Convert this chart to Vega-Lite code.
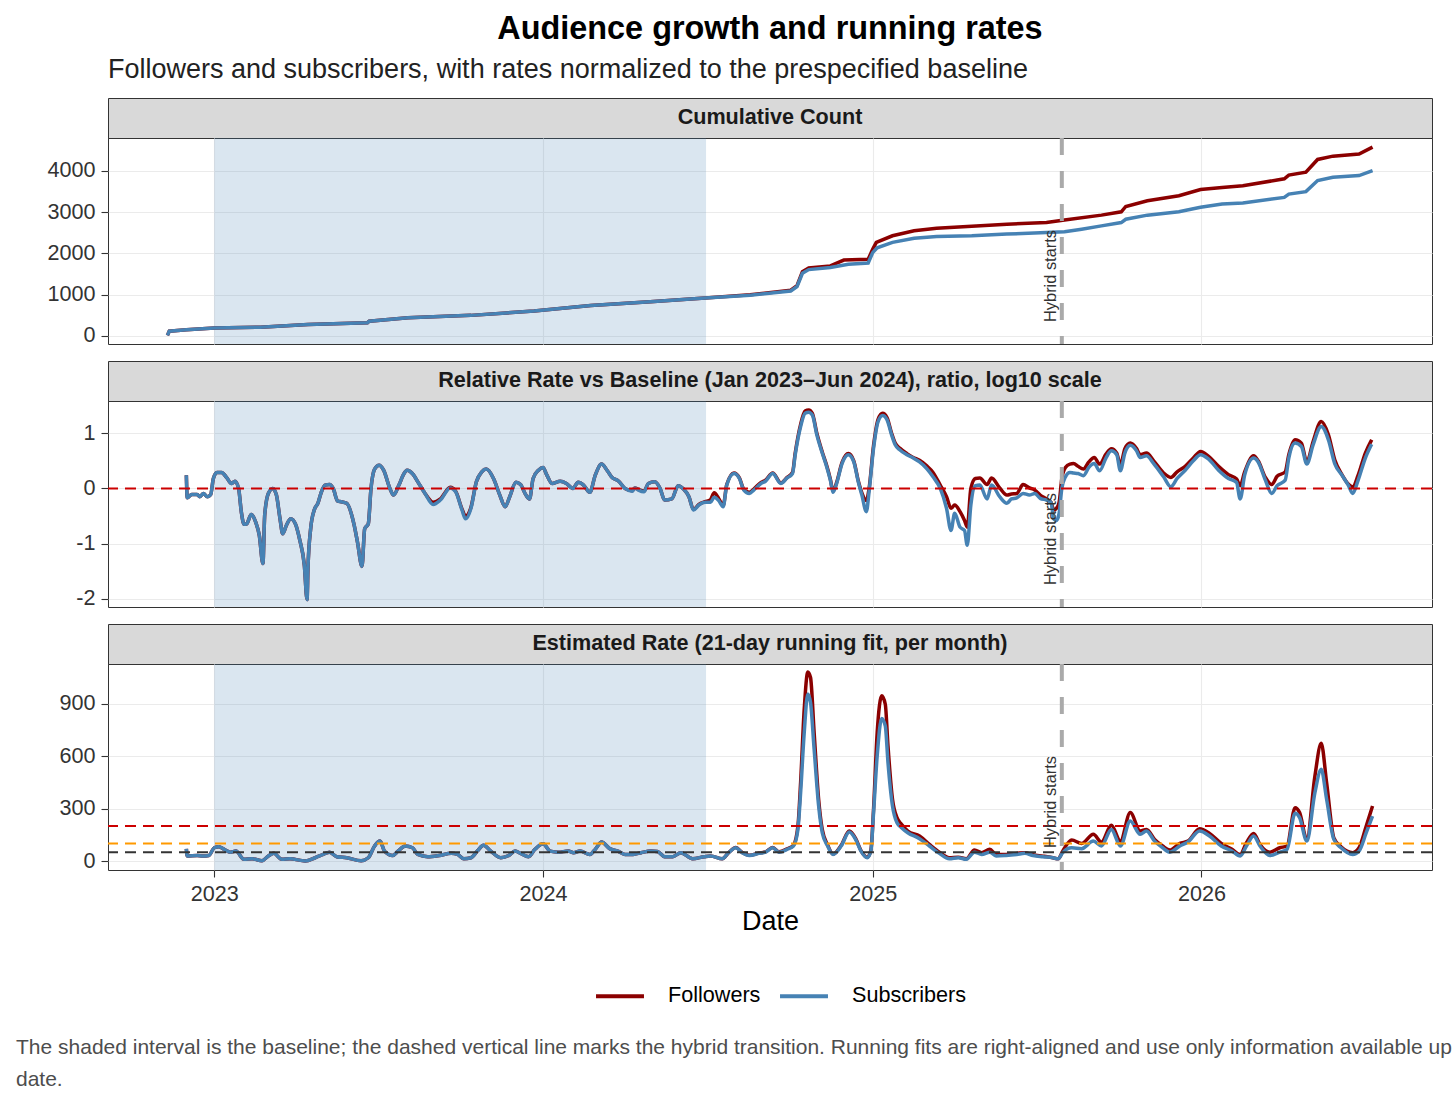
{
"$schema":"https://vega.github.io/schema/vega-lite/v6.json",
"padding":{"left":16,"top":13,"right":0,"bottom":6},
"config":{
"font":"Liberation Sans",
"view":{"stroke":"#333333","strokeWidth":1},
"axis":{"gridColor":"#EBEBEB","gridWidth":1.1,"domain":false,"tickColor":"#333333","tickWidth":1.1,"tickSize":7,"labelColor":"#333333","labelFontSize":21.6,"labelPadding":6},
"legend":{"labelFontSize":21.6,"labelColor":"#000000","symbolType":"stroke","symbolStrokeWidth":4,"symbolSize":2300,"labelOffset":22,"columnPadding":11}
},
"datasets":{
"base":[{"d":"2023-01-01","d2":"2024-06-30"}],
"hyb":[{"d":"2025-07-30","label":"Hybrid starts"}],
"hl3":[{"t":200,"k":"hi"},{"t":100,"k":"mid"},{"t":50,"k":"lo"}],
"hl2":[{"t":0}],
"strip1":[{"label":"Cumulative Count"}],
"strip2":[{"label":"Relative Rate vs Baseline (Jan 2023–Jun 2024), ratio, log10 scale"}],
"strip3":[{"label":"Estimated Rate (21-day running fit, per month)"}],
"cum":[
{"d":"2022-11-10","s":"Followers","v":15},{"d":"2022-11-12","s":"Followers","v":115},{"d":"2022-12-01","s":"Followers","v":150},{"d":"2023-01-01","s":"Followers","v":195},{"d":"2023-02-21","s":"Followers","v":215},{"d":"2023-04-15","s":"Followers","v":280},{"d":"2023-06-20","s":"Followers","v":320},{"d":"2023-06-22","s":"Followers","v":360},{"d":"2023-08-04","s":"Followers","v":440},{"d":"2023-10-13","s":"Followers","v":500},{"d":"2023-12-22","s":"Followers","v":605},{"d":"2024-02-23","s":"Followers","v":740},{"d":"2024-04-29","s":"Followers","v":830},{"d":"2024-06-29","s":"Followers","v":920},{"d":"2024-08-18","s":"Followers","v":1000},{"d":"2024-10-02","s":"Followers","v":1110},{"d":"2024-10-09","s":"Followers","v":1220},{"d":"2024-10-15","s":"Followers","v":1560},{"d":"2024-10-22","s":"Followers","v":1650},{"d":"2024-11-15","s":"Followers","v":1700},{"d":"2024-11-30","s":"Followers","v":1840},{"d":"2024-12-27","s":"Followers","v":1860},{"d":"2025-01-01","s":"Followers","v":2100},{"d":"2025-01-05","s":"Followers","v":2270},{"d":"2025-01-23","s":"Followers","v":2430},{"d":"2025-02-16","s":"Followers","v":2550},{"d":"2025-03-13","s":"Followers","v":2610},{"d":"2025-04-21","s":"Followers","v":2660},{"d":"2025-05-30","s":"Followers","v":2710},{"d":"2025-07-13","s":"Followers","v":2750},{"d":"2025-08-02","s":"Followers","v":2810},{"d":"2025-09-12","s":"Followers","v":2930},{"d":"2025-10-04","s":"Followers","v":3010},{"d":"2025-10-09","s":"Followers","v":3140},{"d":"2025-11-02","s":"Followers","v":3280},{"d":"2025-12-07","s":"Followers","v":3400},{"d":"2025-12-31","s":"Followers","v":3550},{"d":"2026-01-24","s":"Followers","v":3600},{"d":"2026-02-16","s":"Followers","v":3645},{"d":"2026-04-03","s":"Followers","v":3810},{"d":"2026-04-08","s":"Followers","v":3900},{"d":"2026-04-27","s":"Followers","v":3970},{"d":"2026-05-10","s":"Followers","v":4280},{"d":"2026-05-27","s":"Followers","v":4360},{"d":"2026-06-25","s":"Followers","v":4410},{"d":"2026-07-10","s":"Followers","v":4580},
{"d":"2022-11-10","s":"Subscribers","v":15},{"d":"2022-11-12","s":"Subscribers","v":115},{"d":"2022-12-01","s":"Subscribers","v":150},{"d":"2023-01-01","s":"Subscribers","v":195},{"d":"2023-02-21","s":"Subscribers","v":215},{"d":"2023-04-15","s":"Subscribers","v":280},{"d":"2023-06-20","s":"Subscribers","v":320},{"d":"2023-06-22","s":"Subscribers","v":360},{"d":"2023-08-04","s":"Subscribers","v":440},{"d":"2023-10-13","s":"Subscribers","v":500},{"d":"2023-12-22","s":"Subscribers","v":605},{"d":"2024-02-23","s":"Subscribers","v":740},{"d":"2024-04-29","s":"Subscribers","v":830},{"d":"2024-06-29","s":"Subscribers","v":920},{"d":"2024-08-18","s":"Subscribers","v":990},{"d":"2024-10-02","s":"Subscribers","v":1090},{"d":"2024-10-09","s":"Subscribers","v":1200},{"d":"2024-10-15","s":"Subscribers","v":1520},{"d":"2024-10-22","s":"Subscribers","v":1610},{"d":"2024-11-15","s":"Subscribers","v":1660},{"d":"2024-12-05","s":"Subscribers","v":1740},{"d":"2024-12-27","s":"Subscribers","v":1770},{"d":"2025-01-01","s":"Subscribers","v":2020},{"d":"2025-01-06","s":"Subscribers","v":2140},{"d":"2025-01-23","s":"Subscribers","v":2270},{"d":"2025-02-16","s":"Subscribers","v":2370},{"d":"2025-03-13","s":"Subscribers","v":2410},{"d":"2025-04-21","s":"Subscribers","v":2430},{"d":"2025-05-30","s":"Subscribers","v":2470},{"d":"2025-07-13","s":"Subscribers","v":2510},{"d":"2025-08-02","s":"Subscribers","v":2530},{"d":"2025-08-21","s":"Subscribers","v":2590},{"d":"2025-09-12","s":"Subscribers","v":2670},{"d":"2025-10-04","s":"Subscribers","v":2750},{"d":"2025-10-09","s":"Subscribers","v":2830},{"d":"2025-11-02","s":"Subscribers","v":2930},{"d":"2025-12-07","s":"Subscribers","v":3010},{"d":"2025-12-31","s":"Subscribers","v":3120},{"d":"2026-01-24","s":"Subscribers","v":3200},{"d":"2026-02-16","s":"Subscribers","v":3225},{"d":"2026-04-03","s":"Subscribers","v":3360},{"d":"2026-04-08","s":"Subscribers","v":3440},{"d":"2026-04-27","s":"Subscribers","v":3500},{"d":"2026-05-10","s":"Subscribers","v":3770},{"d":"2026-05-27","s":"Subscribers","v":3850},{"d":"2026-06-25","s":"Subscribers","v":3890},{"d":"2026-07-10","s":"Subscribers","v":4010}
],
"rel":[
{"d":"2022-12-01","s":"Followers","v":0.24},{"d":"2022-12-02","s":"Followers","v":-0.17},{"d":"2022-12-07","s":"Followers","v":-0.11},{"d":"2022-12-13","s":"Followers","v":-0.11},{"d":"2022-12-16","s":"Followers","v":-0.15},{"d":"2022-12-20","s":"Followers","v":-0.09},{"d":"2022-12-24","s":"Followers","v":-0.15},{"d":"2022-12-28","s":"Followers","v":-0.11},{"d":"2022-12-31","s":"Followers","v":0.18},{"d":"2023-01-04","s":"Followers","v":0.29},{"d":"2023-01-09","s":"Followers","v":0.29},{"d":"2023-01-15","s":"Followers","v":0.19},{"d":"2023-01-20","s":"Followers","v":0.09},{"d":"2023-01-24","s":"Followers","v":0.13},{"d":"2023-01-28","s":"Followers","v":0.0},{"d":"2023-01-31","s":"Followers","v":-0.42},{"d":"2023-02-03","s":"Followers","v":-0.65},{"d":"2023-02-06","s":"Followers","v":-0.64},{"d":"2023-02-11","s":"Followers","v":-0.47},{"d":"2023-02-16","s":"Followers","v":-0.61},{"d":"2023-02-20","s":"Followers","v":-0.85},{"d":"2023-02-24","s":"Followers","v":-1.36},{"d":"2023-02-26","s":"Followers","v":-0.48},{"d":"2023-03-02","s":"Followers","v":-0.09},{"d":"2023-03-07","s":"Followers","v":0.0},{"d":"2023-03-11","s":"Followers","v":-0.12},{"d":"2023-03-15","s":"Followers","v":-0.55},{"d":"2023-03-18","s":"Followers","v":-0.82},{"d":"2023-03-22","s":"Followers","v":-0.67},{"d":"2023-03-27","s":"Followers","v":-0.55},{"d":"2023-04-01","s":"Followers","v":-0.64},{"d":"2023-04-06","s":"Followers","v":-0.94},{"d":"2023-04-11","s":"Followers","v":-1.39},{"d":"2023-04-14","s":"Followers","v":-2.01},{"d":"2023-04-15","s":"Followers","v":-1.45},{"d":"2023-04-18","s":"Followers","v":-0.73},{"d":"2023-04-22","s":"Followers","v":-0.39},{"d":"2023-04-26","s":"Followers","v":-0.27},{"d":"2023-04-30","s":"Followers","v":-0.06},{"d":"2023-05-04","s":"Followers","v":0.06},{"d":"2023-05-09","s":"Followers","v":0.07},{"d":"2023-05-13","s":"Followers","v":0.0},{"d":"2023-05-18","s":"Followers","v":-0.23},{"d":"2023-05-22","s":"Followers","v":-0.24},{"d":"2023-05-28","s":"Followers","v":-0.27},{"d":"2023-06-05","s":"Followers","v":-0.64},{"d":"2023-06-09","s":"Followers","v":-0.97},{"d":"2023-06-14","s":"Followers","v":-1.41},{"d":"2023-06-17","s":"Followers","v":-0.73},{"d":"2023-06-21","s":"Followers","v":-0.64},{"d":"2023-06-24","s":"Followers","v":0.0},{"d":"2023-06-28","s":"Followers","v":0.35},{"d":"2023-07-03","s":"Followers","v":0.42},{"d":"2023-07-08","s":"Followers","v":0.33},{"d":"2023-07-15","s":"Followers","v":0.0},{"d":"2023-07-19","s":"Followers","v":-0.12},{"d":"2023-07-25","s":"Followers","v":0.06},{"d":"2023-07-30","s":"Followers","v":0.25},{"d":"2023-08-03","s":"Followers","v":0.33},{"d":"2023-08-10","s":"Followers","v":0.25},{"d":"2023-08-15","s":"Followers","v":0.12},{"d":"2023-08-23","s":"Followers","v":-0.09},{"d":"2023-09-01","s":"Followers","v":-0.25},{"d":"2023-09-09","s":"Followers","v":-0.19},{"d":"2023-09-20","s":"Followers","v":0.02},{"d":"2023-09-26","s":"Followers","v":-0.05},{"d":"2023-10-03","s":"Followers","v":-0.37},{"d":"2023-10-07","s":"Followers","v":-0.5},{"d":"2023-10-13","s":"Followers","v":-0.34},{"d":"2023-10-19","s":"Followers","v":0.12},{"d":"2023-10-25","s":"Followers","v":0.3},{"d":"2023-10-30","s":"Followers","v":0.35},{"d":"2023-11-07","s":"Followers","v":0.18},{"d":"2023-11-14","s":"Followers","v":-0.12},{"d":"2023-11-20","s":"Followers","v":-0.33},{"d":"2023-11-25","s":"Followers","v":-0.15},{"d":"2023-12-02","s":"Followers","v":0.11},{"d":"2023-12-07","s":"Followers","v":0.07},{"d":"2023-12-13","s":"Followers","v":-0.12},{"d":"2023-12-17","s":"Followers","v":-0.19},{"d":"2023-12-21","s":"Followers","v":0.18},{"d":"2023-12-27","s":"Followers","v":0.33},{"d":"2024-01-01","s":"Followers","v":0.38},{"d":"2024-01-05","s":"Followers","v":0.25},{"d":"2024-01-11","s":"Followers","v":0.09},{"d":"2024-01-20","s":"Followers","v":0.13},{"d":"2024-01-27","s":"Followers","v":0.09},{"d":"2024-02-03","s":"Followers","v":0.0},{"d":"2024-02-09","s":"Followers","v":0.11},{"d":"2024-02-15","s":"Followers","v":0.06},{"d":"2024-02-22","s":"Followers","v":-0.07},{"d":"2024-02-28","s":"Followers","v":0.24},{"d":"2024-03-06","s":"Followers","v":0.44},{"d":"2024-03-12","s":"Followers","v":0.33},{"d":"2024-03-17","s":"Followers","v":0.21},{"d":"2024-03-25","s":"Followers","v":0.13},{"d":"2024-04-01","s":"Followers","v":0.0},{"d":"2024-04-09","s":"Followers","v":-0.04},{"d":"2024-04-12","s":"Followers","v":0.01},{"d":"2024-04-16","s":"Followers","v":-0.02},{"d":"2024-04-22","s":"Followers","v":-0.05},{"d":"2024-04-27","s":"Followers","v":0.09},{"d":"2024-05-04","s":"Followers","v":0.12},{"d":"2024-05-10","s":"Followers","v":0.0},{"d":"2024-05-15","s":"Followers","v":-0.21},{"d":"2024-05-23","s":"Followers","v":-0.19},{"d":"2024-05-30","s":"Followers","v":0.05},{"d":"2024-06-05","s":"Followers","v":-0.01},{"d":"2024-06-11","s":"Followers","v":-0.15},{"d":"2024-06-16","s":"Followers","v":-0.38},{"d":"2024-06-22","s":"Followers","v":-0.29},{"d":"2024-06-29","s":"Followers","v":-0.24},
{"d":"2024-07-05","s":"Followers","v":-0.2},{"d":"2024-07-09","s":"Followers","v":-0.08},{"d":"2024-07-14","s":"Followers","v":-0.18},{"d":"2024-07-19","s":"Followers","v":-0.31},{"d":"2024-07-23","s":"Followers","v":0.07},{"d":"2024-07-31","s":"Followers","v":0.28},{"d":"2024-08-06","s":"Followers","v":0.19},{"d":"2024-08-11","s":"Followers","v":-0.02},{"d":"2024-08-17","s":"Followers","v":-0.07},{"d":"2024-08-22","s":"Followers","v":-0.01},{"d":"2024-08-30","s":"Followers","v":0.11},{"d":"2024-09-04","s":"Followers","v":0.15},{"d":"2024-09-12","s":"Followers","v":0.28},{"d":"2024-09-21","s":"Followers","v":0.1},{"d":"2024-09-28","s":"Followers","v":0.2},{"d":"2024-10-04","s":"Followers","v":0.29},{"d":"2024-10-07","s":"Followers","v":0.64},{"d":"2024-10-13","s":"Followers","v":1.16},{"d":"2024-10-18","s":"Followers","v":1.4},{"d":"2024-10-22","s":"Followers","v":1.42},{"d":"2024-10-26","s":"Followers","v":1.36},{"d":"2024-10-31","s":"Followers","v":1.0},{"d":"2024-11-06","s":"Followers","v":0.66},{"d":"2024-11-11","s":"Followers","v":0.41},{"d":"2024-11-15","s":"Followers","v":0.17},{"d":"2024-11-18","s":"Followers","v":-0.05},{"d":"2024-11-22","s":"Followers","v":0.11},{"d":"2024-11-28","s":"Followers","v":0.47},{"d":"2024-12-05","s":"Followers","v":0.63},{"d":"2024-12-11","s":"Followers","v":0.5},{"d":"2024-12-16","s":"Followers","v":0.14},{"d":"2024-12-20","s":"Followers","v":-0.08},{"d":"2024-12-25","s":"Followers","v":-0.22},{"d":"2024-12-28","s":"Followers","v":0.0},{"d":"2025-01-02","s":"Followers","v":0.78},{"d":"2025-01-07","s":"Followers","v":1.25},{"d":"2025-01-12","s":"Followers","v":1.36},{"d":"2025-01-17","s":"Followers","v":1.28},{"d":"2025-01-22","s":"Followers","v":1.0},{"d":"2025-01-26","s":"Followers","v":0.82},{"d":"2025-01-31","s":"Followers","v":0.73},{"d":"2025-02-08","s":"Followers","v":0.63},{"d":"2025-02-15","s":"Followers","v":0.56},{"d":"2025-02-22","s":"Followers","v":0.51},{"d":"2025-03-02","s":"Followers","v":0.41},{"d":"2025-03-09","s":"Followers","v":0.29},{"d":"2025-03-17","s":"Followers","v":0.06},{"d":"2025-03-24","s":"Followers","v":-0.15},{"d":"2025-03-29","s":"Followers","v":-0.36},{"d":"2025-04-02","s":"Followers","v":-0.3},{"d":"2025-04-08","s":"Followers","v":-0.42},{"d":"2025-04-13","s":"Followers","v":-0.58},{"d":"2025-04-16","s":"Followers","v":-0.7},{"d":"2025-04-20","s":"Followers","v":0.0},{"d":"2025-04-25","s":"Followers","v":0.18},{"d":"2025-04-30","s":"Followers","v":0.19},{"d":"2025-05-08","s":"Followers","v":0.07},{"d":"2025-05-13","s":"Followers","v":0.19},{"d":"2025-05-22","s":"Followers","v":0.01},{"d":"2025-05-30","s":"Followers","v":-0.12},{"d":"2025-06-04","s":"Followers","v":-0.1},{"d":"2025-06-10","s":"Followers","v":-0.09},{"d":"2025-06-17","s":"Followers","v":0.07},{"d":"2025-06-24","s":"Followers","v":0.01},{"d":"2025-06-30","s":"Followers","v":-0.03},{"d":"2025-07-06","s":"Followers","v":-0.12},{"d":"2025-07-13","s":"Followers","v":-0.19},{"d":"2025-07-18","s":"Followers","v":-0.25},{"d":"2025-07-21","s":"Followers","v":-0.39},{"d":"2025-07-24","s":"Followers","v":-0.36},{"d":"2025-07-27","s":"Followers","v":-0.25},{"d":"2025-07-30","s":"Followers","v":0.18},{"d":"2025-08-03","s":"Followers","v":0.38},{"d":"2025-08-08","s":"Followers","v":0.44},{"d":"2025-08-12","s":"Followers","v":0.45},{"d":"2025-08-17","s":"Followers","v":0.4},{"d":"2025-08-23","s":"Followers","v":0.35},{"d":"2025-08-29","s":"Followers","v":0.48},{"d":"2025-09-04","s":"Followers","v":0.56},{"d":"2025-09-10","s":"Followers","v":0.44},{"d":"2025-09-17","s":"Followers","v":0.62},{"d":"2025-09-23","s":"Followers","v":0.72},{"d":"2025-09-29","s":"Followers","v":0.64},{"d":"2025-10-03","s":"Followers","v":0.42},{"d":"2025-10-08","s":"Followers","v":0.72},{"d":"2025-10-14","s":"Followers","v":0.82},{"d":"2025-10-21","s":"Followers","v":0.72},{"d":"2025-10-25","s":"Followers","v":0.61},{"d":"2025-11-01","s":"Followers","v":0.64},{"d":"2025-11-09","s":"Followers","v":0.5},{"d":"2025-11-20","s":"Followers","v":0.28},{"d":"2025-11-28","s":"Followers","v":0.2},{"d":"2025-12-05","s":"Followers","v":0.3},{"d":"2025-12-14","s":"Followers","v":0.4},{"d":"2025-12-23","s":"Followers","v":0.55},{"d":"2025-12-31","s":"Followers","v":0.67},{"d":"2026-01-09","s":"Followers","v":0.58},{"d":"2026-01-20","s":"Followers","v":0.4},{"d":"2026-01-31","s":"Followers","v":0.25},{"d":"2026-02-09","s":"Followers","v":0.17},{"d":"2026-02-13","s":"Followers","v":0.05},{"d":"2026-02-18","s":"Followers","v":0.3},{"d":"2026-02-28","s":"Followers","v":0.59},{"d":"2026-03-05","s":"Followers","v":0.5},{"d":"2026-03-13","s":"Followers","v":0.2},{"d":"2026-03-20","s":"Followers","v":0.07},{"d":"2026-03-26","s":"Followers","v":0.22},{"d":"2026-04-04","s":"Followers","v":0.3},{"d":"2026-04-08","s":"Followers","v":0.61},{"d":"2026-04-15","s":"Followers","v":0.88},{"d":"2026-04-22","s":"Followers","v":0.82},{"d":"2026-04-28","s":"Followers","v":0.48},{"d":"2026-05-05","s":"Followers","v":0.85},{"d":"2026-05-14","s":"Followers","v":1.21},{"d":"2026-05-22","s":"Followers","v":0.97},{"d":"2026-05-29","s":"Followers","v":0.52},{"d":"2026-06-06","s":"Followers","v":0.25},{"d":"2026-06-13","s":"Followers","v":0.08},{"d":"2026-06-18","s":"Followers","v":0.03},{"d":"2026-06-24","s":"Followers","v":0.24},{"d":"2026-07-02","s":"Followers","v":0.64},{"d":"2026-07-09","s":"Followers","v":0.88},
{"d":"2022-12-01","s":"Subscribers","v":0.24},{"d":"2022-12-02","s":"Subscribers","v":-0.17},{"d":"2022-12-07","s":"Subscribers","v":-0.11},{"d":"2022-12-13","s":"Subscribers","v":-0.11},{"d":"2022-12-16","s":"Subscribers","v":-0.15},{"d":"2022-12-20","s":"Subscribers","v":-0.09},{"d":"2022-12-24","s":"Subscribers","v":-0.15},{"d":"2022-12-28","s":"Subscribers","v":-0.11},{"d":"2022-12-31","s":"Subscribers","v":0.18},{"d":"2023-01-04","s":"Subscribers","v":0.29},{"d":"2023-01-09","s":"Subscribers","v":0.29},{"d":"2023-01-15","s":"Subscribers","v":0.19},{"d":"2023-01-20","s":"Subscribers","v":0.09},{"d":"2023-01-24","s":"Subscribers","v":0.13},{"d":"2023-01-28","s":"Subscribers","v":0.0},{"d":"2023-01-31","s":"Subscribers","v":-0.42},{"d":"2023-02-03","s":"Subscribers","v":-0.65},{"d":"2023-02-06","s":"Subscribers","v":-0.64},{"d":"2023-02-11","s":"Subscribers","v":-0.47},{"d":"2023-02-16","s":"Subscribers","v":-0.61},{"d":"2023-02-20","s":"Subscribers","v":-0.85},{"d":"2023-02-24","s":"Subscribers","v":-1.36},{"d":"2023-02-26","s":"Subscribers","v":-0.48},{"d":"2023-03-02","s":"Subscribers","v":-0.09},{"d":"2023-03-07","s":"Subscribers","v":0.0},{"d":"2023-03-11","s":"Subscribers","v":-0.12},{"d":"2023-03-15","s":"Subscribers","v":-0.55},{"d":"2023-03-18","s":"Subscribers","v":-0.82},{"d":"2023-03-22","s":"Subscribers","v":-0.67},{"d":"2023-03-27","s":"Subscribers","v":-0.55},{"d":"2023-04-01","s":"Subscribers","v":-0.64},{"d":"2023-04-06","s":"Subscribers","v":-0.94},{"d":"2023-04-11","s":"Subscribers","v":-1.39},{"d":"2023-04-14","s":"Subscribers","v":-2.01},{"d":"2023-04-15","s":"Subscribers","v":-1.45},{"d":"2023-04-18","s":"Subscribers","v":-0.73},{"d":"2023-04-22","s":"Subscribers","v":-0.39},{"d":"2023-04-26","s":"Subscribers","v":-0.27},{"d":"2023-04-30","s":"Subscribers","v":-0.06},{"d":"2023-05-04","s":"Subscribers","v":0.06},{"d":"2023-05-09","s":"Subscribers","v":0.07},{"d":"2023-05-13","s":"Subscribers","v":0.0},{"d":"2023-05-18","s":"Subscribers","v":-0.23},{"d":"2023-05-22","s":"Subscribers","v":-0.24},{"d":"2023-05-28","s":"Subscribers","v":-0.27},{"d":"2023-06-05","s":"Subscribers","v":-0.64},{"d":"2023-06-09","s":"Subscribers","v":-0.97},{"d":"2023-06-14","s":"Subscribers","v":-1.41},{"d":"2023-06-17","s":"Subscribers","v":-0.73},{"d":"2023-06-21","s":"Subscribers","v":-0.64},{"d":"2023-06-24","s":"Subscribers","v":0.0},{"d":"2023-06-28","s":"Subscribers","v":0.35},{"d":"2023-07-03","s":"Subscribers","v":0.42},{"d":"2023-07-08","s":"Subscribers","v":0.33},{"d":"2023-07-15","s":"Subscribers","v":0.0},{"d":"2023-07-19","s":"Subscribers","v":-0.12},{"d":"2023-07-25","s":"Subscribers","v":0.06},{"d":"2023-07-30","s":"Subscribers","v":0.25},{"d":"2023-08-03","s":"Subscribers","v":0.33},{"d":"2023-08-10","s":"Subscribers","v":0.25},{"d":"2023-08-15","s":"Subscribers","v":0.12},{"d":"2023-08-23","s":"Subscribers","v":-0.09},{"d":"2023-09-01","s":"Subscribers","v":-0.29},{"d":"2023-09-09","s":"Subscribers","v":-0.21},{"d":"2023-09-20","s":"Subscribers","v":0.01},{"d":"2023-09-26","s":"Subscribers","v":-0.06},{"d":"2023-10-03","s":"Subscribers","v":-0.39},{"d":"2023-10-07","s":"Subscribers","v":-0.55},{"d":"2023-10-13","s":"Subscribers","v":-0.36},{"d":"2023-10-19","s":"Subscribers","v":0.12},{"d":"2023-10-25","s":"Subscribers","v":0.3},{"d":"2023-10-30","s":"Subscribers","v":0.35},{"d":"2023-11-07","s":"Subscribers","v":0.18},{"d":"2023-11-14","s":"Subscribers","v":-0.12},{"d":"2023-11-20","s":"Subscribers","v":-0.33},{"d":"2023-11-25","s":"Subscribers","v":-0.15},{"d":"2023-12-02","s":"Subscribers","v":0.11},{"d":"2023-12-07","s":"Subscribers","v":0.07},{"d":"2023-12-13","s":"Subscribers","v":-0.12},{"d":"2023-12-17","s":"Subscribers","v":-0.19},{"d":"2023-12-21","s":"Subscribers","v":0.18},{"d":"2023-12-27","s":"Subscribers","v":0.33},{"d":"2024-01-01","s":"Subscribers","v":0.38},{"d":"2024-01-05","s":"Subscribers","v":0.25},{"d":"2024-01-11","s":"Subscribers","v":0.09},{"d":"2024-01-20","s":"Subscribers","v":0.13},{"d":"2024-01-27","s":"Subscribers","v":0.09},{"d":"2024-02-03","s":"Subscribers","v":0.0},{"d":"2024-02-09","s":"Subscribers","v":0.11},{"d":"2024-02-15","s":"Subscribers","v":0.06},{"d":"2024-02-22","s":"Subscribers","v":-0.07},{"d":"2024-02-28","s":"Subscribers","v":0.24},{"d":"2024-03-06","s":"Subscribers","v":0.44},{"d":"2024-03-12","s":"Subscribers","v":0.33},{"d":"2024-03-17","s":"Subscribers","v":0.21},{"d":"2024-03-25","s":"Subscribers","v":0.13},{"d":"2024-04-01","s":"Subscribers","v":0.0},{"d":"2024-04-09","s":"Subscribers","v":-0.05},{"d":"2024-04-12","s":"Subscribers","v":0.01},{"d":"2024-04-16","s":"Subscribers","v":-0.03},{"d":"2024-04-22","s":"Subscribers","v":-0.06},{"d":"2024-04-27","s":"Subscribers","v":0.09},{"d":"2024-05-04","s":"Subscribers","v":0.12},{"d":"2024-05-10","s":"Subscribers","v":0.0},{"d":"2024-05-15","s":"Subscribers","v":-0.21},{"d":"2024-05-23","s":"Subscribers","v":-0.19},{"d":"2024-05-30","s":"Subscribers","v":0.05},{"d":"2024-06-05","s":"Subscribers","v":-0.01},{"d":"2024-06-11","s":"Subscribers","v":-0.15},{"d":"2024-06-16","s":"Subscribers","v":-0.39},{"d":"2024-06-22","s":"Subscribers","v":-0.3},{"d":"2024-06-29","s":"Subscribers","v":-0.25},
{"d":"2024-07-05","s":"Subscribers","v":-0.25},{"d":"2024-07-09","s":"Subscribers","v":-0.16},{"d":"2024-07-14","s":"Subscribers","v":-0.22},{"d":"2024-07-19","s":"Subscribers","v":-0.33},{"d":"2024-07-23","s":"Subscribers","v":0.06},{"d":"2024-07-31","s":"Subscribers","v":0.27},{"d":"2024-08-06","s":"Subscribers","v":0.18},{"d":"2024-08-11","s":"Subscribers","v":-0.03},{"d":"2024-08-17","s":"Subscribers","v":-0.09},{"d":"2024-08-22","s":"Subscribers","v":-0.03},{"d":"2024-08-30","s":"Subscribers","v":0.09},{"d":"2024-09-04","s":"Subscribers","v":0.13},{"d":"2024-09-12","s":"Subscribers","v":0.27},{"d":"2024-09-21","s":"Subscribers","v":0.09},{"d":"2024-09-28","s":"Subscribers","v":0.19},{"d":"2024-10-04","s":"Subscribers","v":0.27},{"d":"2024-10-07","s":"Subscribers","v":0.61},{"d":"2024-10-13","s":"Subscribers","v":1.12},{"d":"2024-10-18","s":"Subscribers","v":1.36},{"d":"2024-10-22","s":"Subscribers","v":1.38},{"d":"2024-10-26","s":"Subscribers","v":1.33},{"d":"2024-10-31","s":"Subscribers","v":0.97},{"d":"2024-11-06","s":"Subscribers","v":0.64},{"d":"2024-11-11","s":"Subscribers","v":0.39},{"d":"2024-11-15","s":"Subscribers","v":0.15},{"d":"2024-11-18","s":"Subscribers","v":-0.07},{"d":"2024-11-22","s":"Subscribers","v":0.09},{"d":"2024-11-28","s":"Subscribers","v":0.45},{"d":"2024-12-05","s":"Subscribers","v":0.61},{"d":"2024-12-11","s":"Subscribers","v":0.48},{"d":"2024-12-16","s":"Subscribers","v":0.12},{"d":"2024-12-20","s":"Subscribers","v":-0.12},{"d":"2024-12-25","s":"Subscribers","v":-0.42},{"d":"2024-12-28","s":"Subscribers","v":-0.06},{"d":"2025-01-02","s":"Subscribers","v":0.73},{"d":"2025-01-07","s":"Subscribers","v":1.21},{"d":"2025-01-12","s":"Subscribers","v":1.32},{"d":"2025-01-17","s":"Subscribers","v":1.24},{"d":"2025-01-22","s":"Subscribers","v":0.97},{"d":"2025-01-26","s":"Subscribers","v":0.79},{"d":"2025-01-31","s":"Subscribers","v":0.7},{"d":"2025-02-08","s":"Subscribers","v":0.61},{"d":"2025-02-15","s":"Subscribers","v":0.55},{"d":"2025-02-22","s":"Subscribers","v":0.48},{"d":"2025-03-02","s":"Subscribers","v":0.36},{"d":"2025-03-09","s":"Subscribers","v":0.21},{"d":"2025-03-17","s":"Subscribers","v":0.0},{"d":"2025-03-24","s":"Subscribers","v":-0.36},{"d":"2025-03-29","s":"Subscribers","v":-0.76},{"d":"2025-04-02","s":"Subscribers","v":-0.45},{"d":"2025-04-08","s":"Subscribers","v":-0.7},{"d":"2025-04-13","s":"Subscribers","v":-0.76},{"d":"2025-04-16","s":"Subscribers","v":-1.03},{"d":"2025-04-20","s":"Subscribers","v":-0.3},{"d":"2025-04-25","s":"Subscribers","v":0.05},{"d":"2025-04-30","s":"Subscribers","v":0.06},{"d":"2025-05-08","s":"Subscribers","v":-0.19},{"d":"2025-05-13","s":"Subscribers","v":0.06},{"d":"2025-05-22","s":"Subscribers","v":-0.15},{"d":"2025-05-30","s":"Subscribers","v":-0.27},{"d":"2025-06-04","s":"Subscribers","v":-0.19},{"d":"2025-06-10","s":"Subscribers","v":-0.17},{"d":"2025-06-17","s":"Subscribers","v":-0.09},{"d":"2025-06-24","s":"Subscribers","v":-0.12},{"d":"2025-06-30","s":"Subscribers","v":-0.09},{"d":"2025-07-06","s":"Subscribers","v":-0.18},{"d":"2025-07-13","s":"Subscribers","v":-0.21},{"d":"2025-07-18","s":"Subscribers","v":-0.25},{"d":"2025-07-21","s":"Subscribers","v":-0.55},{"d":"2025-07-24","s":"Subscribers","v":-0.58},{"d":"2025-07-27","s":"Subscribers","v":-0.45},{"d":"2025-07-30","s":"Subscribers","v":0.0},{"d":"2025-08-03","s":"Subscribers","v":0.21},{"d":"2025-08-08","s":"Subscribers","v":0.29},{"d":"2025-08-12","s":"Subscribers","v":0.28},{"d":"2025-08-17","s":"Subscribers","v":0.27},{"d":"2025-08-23","s":"Subscribers","v":0.23},{"d":"2025-08-29","s":"Subscribers","v":0.38},{"d":"2025-09-04","s":"Subscribers","v":0.45},{"d":"2025-09-10","s":"Subscribers","v":0.32},{"d":"2025-09-17","s":"Subscribers","v":0.55},{"d":"2025-09-23","s":"Subscribers","v":0.68},{"d":"2025-09-29","s":"Subscribers","v":0.61},{"d":"2025-10-03","s":"Subscribers","v":0.32},{"d":"2025-10-08","s":"Subscribers","v":0.64},{"d":"2025-10-14","s":"Subscribers","v":0.78},{"d":"2025-10-21","s":"Subscribers","v":0.68},{"d":"2025-10-25","s":"Subscribers","v":0.56},{"d":"2025-11-01","s":"Subscribers","v":0.59},{"d":"2025-11-09","s":"Subscribers","v":0.45},{"d":"2025-11-20","s":"Subscribers","v":0.21},{"d":"2025-11-28","s":"Subscribers","v":0.03},{"d":"2025-12-05","s":"Subscribers","v":0.18},{"d":"2025-12-14","s":"Subscribers","v":0.33},{"d":"2025-12-23","s":"Subscribers","v":0.5},{"d":"2025-12-31","s":"Subscribers","v":0.61},{"d":"2026-01-09","s":"Subscribers","v":0.53},{"d":"2026-01-20","s":"Subscribers","v":0.33},{"d":"2026-01-31","s":"Subscribers","v":0.18},{"d":"2026-02-09","s":"Subscribers","v":0.11},{"d":"2026-02-13","s":"Subscribers","v":-0.19},{"d":"2026-02-18","s":"Subscribers","v":0.24},{"d":"2026-02-28","s":"Subscribers","v":0.55},{"d":"2026-03-05","s":"Subscribers","v":0.48},{"d":"2026-03-13","s":"Subscribers","v":0.15},{"d":"2026-03-20","s":"Subscribers","v":-0.09},{"d":"2026-03-26","s":"Subscribers","v":0.05},{"d":"2026-04-04","s":"Subscribers","v":0.15},{"d":"2026-04-08","s":"Subscribers","v":0.55},{"d":"2026-04-15","s":"Subscribers","v":0.82},{"d":"2026-04-22","s":"Subscribers","v":0.76},{"d":"2026-04-28","s":"Subscribers","v":0.44},{"d":"2026-05-05","s":"Subscribers","v":0.79},{"d":"2026-05-14","s":"Subscribers","v":1.12},{"d":"2026-05-22","s":"Subscribers","v":0.88},{"d":"2026-05-29","s":"Subscribers","v":0.45},{"d":"2026-06-06","s":"Subscribers","v":0.24},{"d":"2026-06-13","s":"Subscribers","v":0.06},{"d":"2026-06-18","s":"Subscribers","v":-0.09},{"d":"2026-06-24","s":"Subscribers","v":0.15},{"d":"2026-07-02","s":"Subscribers","v":0.55},{"d":"2026-07-09","s":"Subscribers","v":0.8}
],
"est":[
{"d":"2022-12-01","s":"Followers","v":70},{"d":"2022-12-02","s":"Followers","v":29},{"d":"2022-12-13","s":"Followers","v":32},{"d":"2022-12-19","s":"Followers","v":29},{"d":"2022-12-26","s":"Followers","v":32},{"d":"2023-01-01","s":"Followers","v":76},{"d":"2023-01-06","s":"Followers","v":82},{"d":"2023-01-12","s":"Followers","v":67},{"d":"2023-01-19","s":"Followers","v":51},{"d":"2023-01-25","s":"Followers","v":57},{"d":"2023-02-03","s":"Followers","v":10},{"d":"2023-02-12","s":"Followers","v":13},{"d":"2023-02-23","s":"Followers","v":2},{"d":"2023-03-02","s":"Followers","v":29},{"d":"2023-03-08","s":"Followers","v":44},{"d":"2023-03-17","s":"Followers","v":10},{"d":"2023-03-26","s":"Followers","v":13},{"d":"2023-04-12","s":"Followers","v":1},{"d":"2023-04-23","s":"Followers","v":19},{"d":"2023-05-02","s":"Followers","v":38},{"d":"2023-05-09","s":"Followers","v":51},{"d":"2023-05-17","s":"Followers","v":25},{"d":"2023-05-28","s":"Followers","v":19},{"d":"2023-06-13","s":"Followers","v":2},{"d":"2023-06-21","s":"Followers","v":19},{"d":"2023-06-28","s":"Followers","v":86},{"d":"2023-07-04","s":"Followers","v":114},{"d":"2023-07-09","s":"Followers","v":57},{"d":"2023-07-18","s":"Followers","v":32},{"d":"2023-07-24","s":"Followers","v":57},{"d":"2023-08-01","s":"Followers","v":86},{"d":"2023-08-09","s":"Followers","v":76},{"d":"2023-08-15","s":"Followers","v":38},{"d":"2023-08-26","s":"Followers","v":25},{"d":"2023-09-08","s":"Followers","v":32},{"d":"2023-09-21","s":"Followers","v":44},{"d":"2023-09-28","s":"Followers","v":38},{"d":"2023-10-05","s":"Followers","v":13},{"d":"2023-10-13","s":"Followers","v":19},{"d":"2023-10-20","s":"Followers","v":57},{"d":"2023-10-27","s":"Followers","v":90},{"d":"2023-11-04","s":"Followers","v":57},{"d":"2023-11-15","s":"Followers","v":19},{"d":"2023-11-24","s":"Followers","v":32},{"d":"2023-12-01","s":"Followers","v":57},{"d":"2023-12-07","s":"Followers","v":44},{"d":"2023-12-16","s":"Followers","v":25},{"d":"2023-12-23","s":"Followers","v":67},{"d":"2024-01-01","s":"Followers","v":99},{"d":"2024-01-09","s":"Followers","v":57},{"d":"2024-01-18","s":"Followers","v":51},{"d":"2024-01-29","s":"Followers","v":57},{"d":"2024-02-04","s":"Followers","v":48},{"d":"2024-02-11","s":"Followers","v":57},{"d":"2024-02-22","s":"Followers","v":38},{"d":"2024-02-28","s":"Followers","v":67},{"d":"2024-03-06","s":"Followers","v":109},{"d":"2024-03-15","s":"Followers","v":71},{"d":"2024-03-24","s":"Followers","v":57},{"d":"2024-04-01","s":"Followers","v":38},{"d":"2024-04-10","s":"Followers","v":38},{"d":"2024-04-19","s":"Followers","v":48},{"d":"2024-04-30","s":"Followers","v":57},{"d":"2024-05-07","s":"Followers","v":55},{"d":"2024-05-15","s":"Followers","v":25},{"d":"2024-05-24","s":"Followers","v":25},{"d":"2024-06-02","s":"Followers","v":48},{"d":"2024-06-15","s":"Followers","v":13},{"d":"2024-06-28","s":"Followers","v":25},{"d":"2024-07-05","s":"Followers","v":29},{"d":"2024-07-18","s":"Followers","v":13},{"d":"2024-07-25","s":"Followers","v":48},{"d":"2024-08-02","s":"Followers","v":78},{"d":"2024-08-09","s":"Followers","v":50},{"d":"2024-08-17","s":"Followers","v":33},{"d":"2024-08-28","s":"Followers","v":46},{"d":"2024-09-04","s":"Followers","v":53},{"d":"2024-09-12","s":"Followers","v":78},{"d":"2024-09-19","s":"Followers","v":53},{"d":"2024-09-28","s":"Followers","v":70},{"d":"2024-10-05","s":"Followers","v":90},{"d":"2024-10-10","s":"Followers","v":200},{"d":"2024-10-13","s":"Followers","v":450},{"d":"2024-10-17","s":"Followers","v":868},{"d":"2024-10-21","s":"Followers","v":1081},{"d":"2024-10-24","s":"Followers","v":1049},{"d":"2024-10-28","s":"Followers","v":734},{"d":"2024-11-02","s":"Followers","v":353},{"d":"2024-11-06","s":"Followers","v":181},{"d":"2024-11-12","s":"Followers","v":92},{"d":"2024-11-18","s":"Followers","v":40},{"d":"2024-11-27","s":"Followers","v":90},{"d":"2024-12-06","s":"Followers","v":172},{"d":"2024-12-13","s":"Followers","v":130},{"d":"2024-12-19","s":"Followers","v":60},{"d":"2024-12-26","s":"Followers","v":22},{"d":"2024-12-30","s":"Followers","v":62},{"d":"2025-01-02","s":"Followers","v":300},{"d":"2025-01-06","s":"Followers","v":734},{"d":"2025-01-11","s":"Followers","v":944},{"d":"2025-01-15","s":"Followers","v":896},{"d":"2025-01-18","s":"Followers","v":658},{"d":"2025-01-23","s":"Followers","v":353},{"d":"2025-01-28","s":"Followers","v":248},{"d":"2025-02-02","s":"Followers","v":210},{"d":"2025-02-09","s":"Followers","v":172},{"d":"2025-02-22","s":"Followers","v":143},{"d":"2025-03-05","s":"Followers","v":95},{"d":"2025-03-16","s":"Followers","v":51},{"d":"2025-03-27","s":"Followers","v":19},{"d":"2025-04-06","s":"Followers","v":22},{"d":"2025-04-15","s":"Followers","v":13},{"d":"2025-04-24","s":"Followers","v":63},{"d":"2025-05-02","s":"Followers","v":48},{"d":"2025-05-11","s":"Followers","v":67},{"d":"2025-05-18","s":"Followers","v":38},{"d":"2025-05-29","s":"Followers","v":38},{"d":"2025-06-10","s":"Followers","v":44},{"d":"2025-06-19","s":"Followers","v":48},{"d":"2025-06-28","s":"Followers","v":36},{"d":"2025-07-09","s":"Followers","v":28},{"d":"2025-07-20","s":"Followers","v":19},{"d":"2025-07-26","s":"Followers","v":13},{"d":"2025-07-31","s":"Followers","v":57},{"d":"2025-08-10","s":"Followers","v":120},{"d":"2025-08-21","s":"Followers","v":101},{"d":"2025-09-03","s":"Followers","v":153},{"d":"2025-09-12","s":"Followers","v":109},{"d":"2025-09-23","s":"Followers","v":204},{"d":"2025-10-03","s":"Followers","v":114},{"d":"2025-10-14","s":"Followers","v":277},{"d":"2025-10-25","s":"Followers","v":172},{"d":"2025-11-01","s":"Followers","v":181},{"d":"2025-11-10","s":"Followers","v":124},{"d":"2025-11-19","s":"Followers","v":86},{"d":"2025-11-27","s":"Followers","v":63},{"d":"2025-12-08","s":"Followers","v":101},{"d":"2025-12-17","s":"Followers","v":114},{"d":"2025-12-30","s":"Followers","v":185},{"d":"2026-01-10","s":"Followers","v":158},{"d":"2026-01-23","s":"Followers","v":101},{"d":"2026-02-04","s":"Followers","v":67},{"d":"2026-02-13","s":"Followers","v":38},{"d":"2026-02-20","s":"Followers","v":105},{"d":"2026-02-28","s":"Followers","v":158},{"d":"2026-03-07","s":"Followers","v":95},{"d":"2026-03-18","s":"Followers","v":51},{"d":"2026-03-29","s":"Followers","v":76},{"d":"2026-04-06","s":"Followers","v":86},{"d":"2026-04-15","s":"Followers","v":305},{"d":"2026-04-20","s":"Followers","v":277},{"d":"2026-04-28","s":"Followers","v":124},{"d":"2026-05-07","s":"Followers","v":486},{"d":"2026-05-14","s":"Followers","v":673},{"d":"2026-05-20","s":"Followers","v":448},{"d":"2026-05-28","s":"Followers","v":133},{"d":"2026-06-05","s":"Followers","v":82},{"d":"2026-06-18","s":"Followers","v":48},{"d":"2026-06-25","s":"Followers","v":76},{"d":"2026-07-03","s":"Followers","v":200},{"d":"2026-07-10","s":"Followers","v":315},
{"d":"2022-12-01","s":"Subscribers","v":70},{"d":"2022-12-02","s":"Subscribers","v":29},{"d":"2022-12-13","s":"Subscribers","v":32},{"d":"2022-12-19","s":"Subscribers","v":29},{"d":"2022-12-26","s":"Subscribers","v":32},{"d":"2023-01-01","s":"Subscribers","v":76},{"d":"2023-01-06","s":"Subscribers","v":82},{"d":"2023-01-12","s":"Subscribers","v":67},{"d":"2023-01-19","s":"Subscribers","v":51},{"d":"2023-01-25","s":"Subscribers","v":57},{"d":"2023-02-03","s":"Subscribers","v":10},{"d":"2023-02-12","s":"Subscribers","v":13},{"d":"2023-02-23","s":"Subscribers","v":2},{"d":"2023-03-02","s":"Subscribers","v":29},{"d":"2023-03-08","s":"Subscribers","v":44},{"d":"2023-03-17","s":"Subscribers","v":10},{"d":"2023-03-26","s":"Subscribers","v":13},{"d":"2023-04-12","s":"Subscribers","v":1},{"d":"2023-04-23","s":"Subscribers","v":19},{"d":"2023-05-02","s":"Subscribers","v":38},{"d":"2023-05-09","s":"Subscribers","v":51},{"d":"2023-05-17","s":"Subscribers","v":25},{"d":"2023-05-28","s":"Subscribers","v":19},{"d":"2023-06-13","s":"Subscribers","v":2},{"d":"2023-06-21","s":"Subscribers","v":19},{"d":"2023-06-28","s":"Subscribers","v":86},{"d":"2023-07-04","s":"Subscribers","v":114},{"d":"2023-07-09","s":"Subscribers","v":57},{"d":"2023-07-18","s":"Subscribers","v":32},{"d":"2023-07-24","s":"Subscribers","v":57},{"d":"2023-08-01","s":"Subscribers","v":86},{"d":"2023-08-09","s":"Subscribers","v":76},{"d":"2023-08-15","s":"Subscribers","v":38},{"d":"2023-08-26","s":"Subscribers","v":25},{"d":"2023-09-08","s":"Subscribers","v":32},{"d":"2023-09-21","s":"Subscribers","v":44},{"d":"2023-09-28","s":"Subscribers","v":38},{"d":"2023-10-05","s":"Subscribers","v":13},{"d":"2023-10-13","s":"Subscribers","v":19},{"d":"2023-10-20","s":"Subscribers","v":57},{"d":"2023-10-27","s":"Subscribers","v":90},{"d":"2023-11-04","s":"Subscribers","v":57},{"d":"2023-11-15","s":"Subscribers","v":19},{"d":"2023-11-24","s":"Subscribers","v":32},{"d":"2023-12-01","s":"Subscribers","v":57},{"d":"2023-12-07","s":"Subscribers","v":44},{"d":"2023-12-16","s":"Subscribers","v":25},{"d":"2023-12-23","s":"Subscribers","v":67},{"d":"2024-01-01","s":"Subscribers","v":99},{"d":"2024-01-09","s":"Subscribers","v":57},{"d":"2024-01-18","s":"Subscribers","v":51},{"d":"2024-01-29","s":"Subscribers","v":57},{"d":"2024-02-04","s":"Subscribers","v":48},{"d":"2024-02-11","s":"Subscribers","v":57},{"d":"2024-02-22","s":"Subscribers","v":38},{"d":"2024-02-28","s":"Subscribers","v":67},{"d":"2024-03-06","s":"Subscribers","v":109},{"d":"2024-03-15","s":"Subscribers","v":71},{"d":"2024-03-24","s":"Subscribers","v":57},{"d":"2024-04-01","s":"Subscribers","v":38},{"d":"2024-04-10","s":"Subscribers","v":38},{"d":"2024-04-19","s":"Subscribers","v":48},{"d":"2024-04-30","s":"Subscribers","v":57},{"d":"2024-05-07","s":"Subscribers","v":55},{"d":"2024-05-15","s":"Subscribers","v":25},{"d":"2024-05-24","s":"Subscribers","v":25},{"d":"2024-06-02","s":"Subscribers","v":48},{"d":"2024-06-15","s":"Subscribers","v":13},{"d":"2024-06-28","s":"Subscribers","v":25},{"d":"2024-07-05","s":"Subscribers","v":29},{"d":"2024-07-18","s":"Subscribers","v":13},{"d":"2024-07-25","s":"Subscribers","v":48},{"d":"2024-08-02","s":"Subscribers","v":76},{"d":"2024-08-09","s":"Subscribers","v":48},{"d":"2024-08-17","s":"Subscribers","v":32},{"d":"2024-08-28","s":"Subscribers","v":44},{"d":"2024-09-04","s":"Subscribers","v":51},{"d":"2024-09-12","s":"Subscribers","v":76},{"d":"2024-09-19","s":"Subscribers","v":51},{"d":"2024-09-28","s":"Subscribers","v":67},{"d":"2024-10-05","s":"Subscribers","v":86},{"d":"2024-10-10","s":"Subscribers","v":181},{"d":"2024-10-13","s":"Subscribers","v":391},{"d":"2024-10-17","s":"Subscribers","v":734},{"d":"2024-10-21","s":"Subscribers","v":955},{"d":"2024-10-24","s":"Subscribers","v":906},{"d":"2024-10-28","s":"Subscribers","v":639},{"d":"2024-11-02","s":"Subscribers","v":315},{"d":"2024-11-06","s":"Subscribers","v":162},{"d":"2024-11-12","s":"Subscribers","v":86},{"d":"2024-11-18","s":"Subscribers","v":38},{"d":"2024-11-27","s":"Subscribers","v":86},{"d":"2024-12-06","s":"Subscribers","v":166},{"d":"2024-12-13","s":"Subscribers","v":124},{"d":"2024-12-19","s":"Subscribers","v":57},{"d":"2024-12-26","s":"Subscribers","v":19},{"d":"2024-12-30","s":"Subscribers","v":57},{"d":"2025-01-02","s":"Subscribers","v":277},{"d":"2025-01-06","s":"Subscribers","v":601},{"d":"2025-01-11","s":"Subscribers","v":815},{"d":"2025-01-15","s":"Subscribers","v":772},{"d":"2025-01-18","s":"Subscribers","v":563},{"d":"2025-01-23","s":"Subscribers","v":315},{"d":"2025-01-28","s":"Subscribers","v":219},{"d":"2025-02-02","s":"Subscribers","v":191},{"d":"2025-02-09","s":"Subscribers","v":162},{"d":"2025-02-22","s":"Subscribers","v":128},{"d":"2025-03-05","s":"Subscribers","v":86},{"d":"2025-03-16","s":"Subscribers","v":44},{"d":"2025-03-27","s":"Subscribers","v":13},{"d":"2025-04-06","s":"Subscribers","v":19},{"d":"2025-04-15","s":"Subscribers","v":10},{"d":"2025-04-24","s":"Subscribers","v":51},{"d":"2025-05-02","s":"Subscribers","v":38},{"d":"2025-05-11","s":"Subscribers","v":51},{"d":"2025-05-18","s":"Subscribers","v":29},{"d":"2025-05-29","s":"Subscribers","v":32},{"d":"2025-06-10","s":"Subscribers","v":38},{"d":"2025-06-19","s":"Subscribers","v":44},{"d":"2025-06-28","s":"Subscribers","v":32},{"d":"2025-07-09","s":"Subscribers","v":25},{"d":"2025-07-20","s":"Subscribers","v":19},{"d":"2025-07-26","s":"Subscribers","v":13},{"d":"2025-07-31","s":"Subscribers","v":48},{"d":"2025-08-10","s":"Subscribers","v":76},{"d":"2025-08-21","s":"Subscribers","v":71},{"d":"2025-09-03","s":"Subscribers","v":114},{"d":"2025-09-12","s":"Subscribers","v":86},{"d":"2025-09-23","s":"Subscribers","v":181},{"d":"2025-10-03","s":"Subscribers","v":86},{"d":"2025-10-14","s":"Subscribers","v":229},{"d":"2025-10-25","s":"Subscribers","v":153},{"d":"2025-11-01","s":"Subscribers","v":172},{"d":"2025-11-10","s":"Subscribers","v":114},{"d":"2025-11-19","s":"Subscribers","v":76},{"d":"2025-11-27","s":"Subscribers","v":51},{"d":"2025-12-08","s":"Subscribers","v":86},{"d":"2025-12-17","s":"Subscribers","v":109},{"d":"2025-12-30","s":"Subscribers","v":172},{"d":"2026-01-10","s":"Subscribers","v":143},{"d":"2026-01-23","s":"Subscribers","v":86},{"d":"2026-02-04","s":"Subscribers","v":57},{"d":"2026-02-13","s":"Subscribers","v":29},{"d":"2026-02-20","s":"Subscribers","v":86},{"d":"2026-02-28","s":"Subscribers","v":143},{"d":"2026-03-07","s":"Subscribers","v":86},{"d":"2026-03-18","s":"Subscribers","v":32},{"d":"2026-03-29","s":"Subscribers","v":51},{"d":"2026-04-06","s":"Subscribers","v":67},{"d":"2026-04-15","s":"Subscribers","v":273},{"d":"2026-04-20","s":"Subscribers","v":248},{"d":"2026-04-28","s":"Subscribers","v":114},{"d":"2026-05-07","s":"Subscribers","v":391},{"d":"2026-05-14","s":"Subscribers","v":524},{"d":"2026-05-20","s":"Subscribers","v":353},{"d":"2026-05-28","s":"Subscribers","v":124},{"d":"2026-06-05","s":"Subscribers","v":76},{"d":"2026-06-18","s":"Subscribers","v":38},{"d":"2026-06-25","s":"Subscribers","v":57},{"d":"2026-07-03","s":"Subscribers","v":162},{"d":"2026-07-10","s":"Subscribers","v":257}
]
},
"title":{"text":["The shaded interval is the baseline; the dashed vertical line marks the hybrid transition. Running fits are right-aligned and use only information available up","date."],"orient":"bottom","anchor":"start","frame":"group","fontSize":21,"fontWeight":"normal","color":"#4D4D4D","lineHeight":32,"offset":30,"dx":-92},
"vconcat":[
{
"title":{"text":"Audience growth and running rates","fontSize":32.4,"fontWeight":"bold","color":"#000000","anchor":"middle","frame":"bounds","dx":30,"offset":10},
"spacing":12,
"vconcat":[
{"spacing":0,"bounds":"flush","vconcat":[
{"title":{"text":"Followers and subscribers, with rates normalized to the prespecified baseline","fontSize":27,"fontWeight":"normal","color":"#222222","anchor":"start","frame":"group","offset":14},
"width":1324,"height":40,"view":{"fill":"#D9D9D9","stroke":"#333333"},
"data":{"name":"strip1"},"mark":{"type":"text","fontSize":21.6,"fontWeight":"bold","color":"#1A1A1A"},"encoding":{"text":{"field":"label"}}},
{"width":1324,"height":206,
"layer":[
{"data":{"name":"base"},"mark":{"type":"rect","color":"#4682B4","opacity":0.2},"encoding":{"x":{"field":"d","type":"temporal"},"x2":{"field":"d2"}}},
{"data":{"name":"cum"},"mark":{"type":"line","strokeWidth":3.5,"interpolate":"linear"},"encoding":{
"x":{"field":"d","type":"temporal","scale":{"type":"utc","domain":[{"year":2022,"month":9,"date":5,"utc":true},{"year":2026,"month":9,"date":14,"utc":true}]},"axis":{"title":null,"labels":false,"ticks":false,"grid":true,"values":[{"year":2023,"utc":true},{"year":2024,"utc":true},{"year":2025,"utc":true},{"year":2026,"utc":true}]}},
"y":{"field":"v","type":"quantitative","scale":{"domain":[-194,4800],"nice":false,"zero":false},"axis":{"title":null,"format":"d","values":[0,1000,2000,3000,4000]}},
"color":{"field":"s","type":"nominal","scale":{"domain":["Followers","Subscribers"],"range":["#8B0000","#4682B4"]},"legend":{"title":null,"orient":"none","direction":"horizontal","legendX":486,"legendY":872}}}},
{"data":{"name":"hyb"},"mark":{"type":"rule","color":"#AAAAAA","strokeWidth":4,"strokeDash":[17,16]},"encoding":{"x":{"field":"d","type":"temporal"}}},
{"data":{"name":"hyb"},"mark":{"type":"text","angle":270,"align":"left","baseline":"bottom","dx":22,"dy":-3,"fontSize":16.4,"color":"#333333"},"encoding":{"x":{"field":"d","type":"temporal"},"y":{"datum":-194},"text":{"field":"label"}}}
]}
]},
{"spacing":0,"bounds":"flush","vconcat":[
{"width":1324,"height":40,"view":{"fill":"#D9D9D9","stroke":"#333333"},
"data":{"name":"strip2"},"mark":{"type":"text","fontSize":21.6,"fontWeight":"bold","color":"#1A1A1A"},"encoding":{"text":{"field":"label"}}},
{"width":1324,"height":206,
"layer":[
{"data":{"name":"base"},"mark":{"type":"rect","color":"#4682B4","opacity":0.2},"encoding":{"x":{"field":"d","type":"temporal"},"x2":{"field":"d2"}}},
{"data":{"name":"rel"},"mark":{"type":"line","strokeWidth":3.5,"interpolate":"monotone"},"encoding":{
"x":{"field":"d","type":"temporal","scale":{"type":"utc","domain":[{"year":2022,"month":9,"date":5,"utc":true},{"year":2026,"month":9,"date":14,"utc":true}]},"axis":{"title":null,"labels":false,"ticks":false,"grid":true,"values":[{"year":2023,"utc":true},{"year":2024,"utc":true},{"year":2025,"utc":true},{"year":2026,"utc":true}]}},
"y":{"field":"v","type":"quantitative","scale":{"domain":[-2.145,1.582],"nice":false,"zero":false},"axis":{"title":null,"values":[-2,-1,0,1],"labelExpr":"toString(datum.value)"}},
"color":{"field":"s","type":"nominal","scale":{"domain":["Followers","Subscribers"],"range":["#8B0000","#4682B4"]},"legend":{"title":null,"orient":"none","direction":"horizontal","legendX":486,"legendY":872}}}},
{"data":{"name":"hl2"},"mark":{"type":"rule","color":"#CC0000","strokeWidth":2,"strokeDash":[11,7]},"encoding":{"y":{"field":"t","type":"quantitative"}}},
{"data":{"name":"hyb"},"mark":{"type":"rule","color":"#AAAAAA","strokeWidth":4,"strokeDash":[17,16]},"encoding":{"x":{"field":"d","type":"temporal"}}},
{"data":{"name":"hyb"},"mark":{"type":"text","angle":270,"align":"left","baseline":"bottom","dx":22,"dy":-3,"fontSize":16.4,"color":"#333333"},"encoding":{"x":{"field":"d","type":"temporal"},"y":{"datum":-2.145},"text":{"field":"label"}}}
]}
]},
{"spacing":0,"bounds":"flush","vconcat":[
{"width":1324,"height":40,"view":{"fill":"#D9D9D9","stroke":"#333333"},
"data":{"name":"strip3"},"mark":{"type":"text","fontSize":21.6,"fontWeight":"bold","color":"#1A1A1A"},"encoding":{"text":{"field":"label"}}},
{"width":1324,"height":206,
"layer":[
{"data":{"name":"base"},"mark":{"type":"rect","color":"#4682B4","opacity":0.2},"encoding":{"x":{"field":"d","type":"temporal"},"x2":{"field":"d2"}}},
{"data":{"name":"est"},"mark":{"type":"line","strokeWidth":3.5,"interpolate":"monotone"},"encoding":{
"x":{"field":"d","type":"temporal","scale":{"type":"utc","domain":[{"year":2022,"month":9,"date":5,"utc":true},{"year":2026,"month":9,"date":14,"utc":true}]},"axis":{"title":"Date","titleFontSize":27,"titleFontWeight":"normal","titleColor":"#000000","titlePadding":4,"format":"%Y","grid":true,"values":[{"year":2023,"utc":true},{"year":2024,"utc":true},{"year":2025,"utc":true},{"year":2026,"utc":true}]}},
"y":{"field":"v","type":"quantitative","scale":{"domain":[-51,1126],"nice":false,"zero":false},"axis":{"title":null,"format":"d","values":[0,300,600,900]}},
"color":{"field":"s","type":"nominal","scale":{"domain":["Followers","Subscribers"],"range":["#8B0000","#4682B4"]},"legend":{"title":null,"orient":"none","direction":"horizontal","legendX":486,"legendY":872}}}},
{"data":{"name":"hl3"},"mark":{"type":"rule","strokeWidth":2,"strokeDash":[11,7]},"encoding":{"y":{"field":"t","type":"quantitative"},"stroke":{"field":"k","type":"nominal","scale":{"domain":["hi","mid","lo"],"range":["#CC0000","#FF9900","#333333"]},"legend":null}}},
{"data":{"name":"hyb"},"mark":{"type":"rule","color":"#AAAAAA","strokeWidth":4,"strokeDash":[17,16]},"encoding":{"x":{"field":"d","type":"temporal"}}},
{"data":{"name":"hyb"},"mark":{"type":"text","angle":270,"align":"left","baseline":"bottom","dx":22,"dy":-3,"fontSize":16.4,"color":"#333333"},"encoding":{"x":{"field":"d","type":"temporal"},"y":{"datum":-51},"text":{"field":"label"}}}
]}
]}
]
}
]
}
